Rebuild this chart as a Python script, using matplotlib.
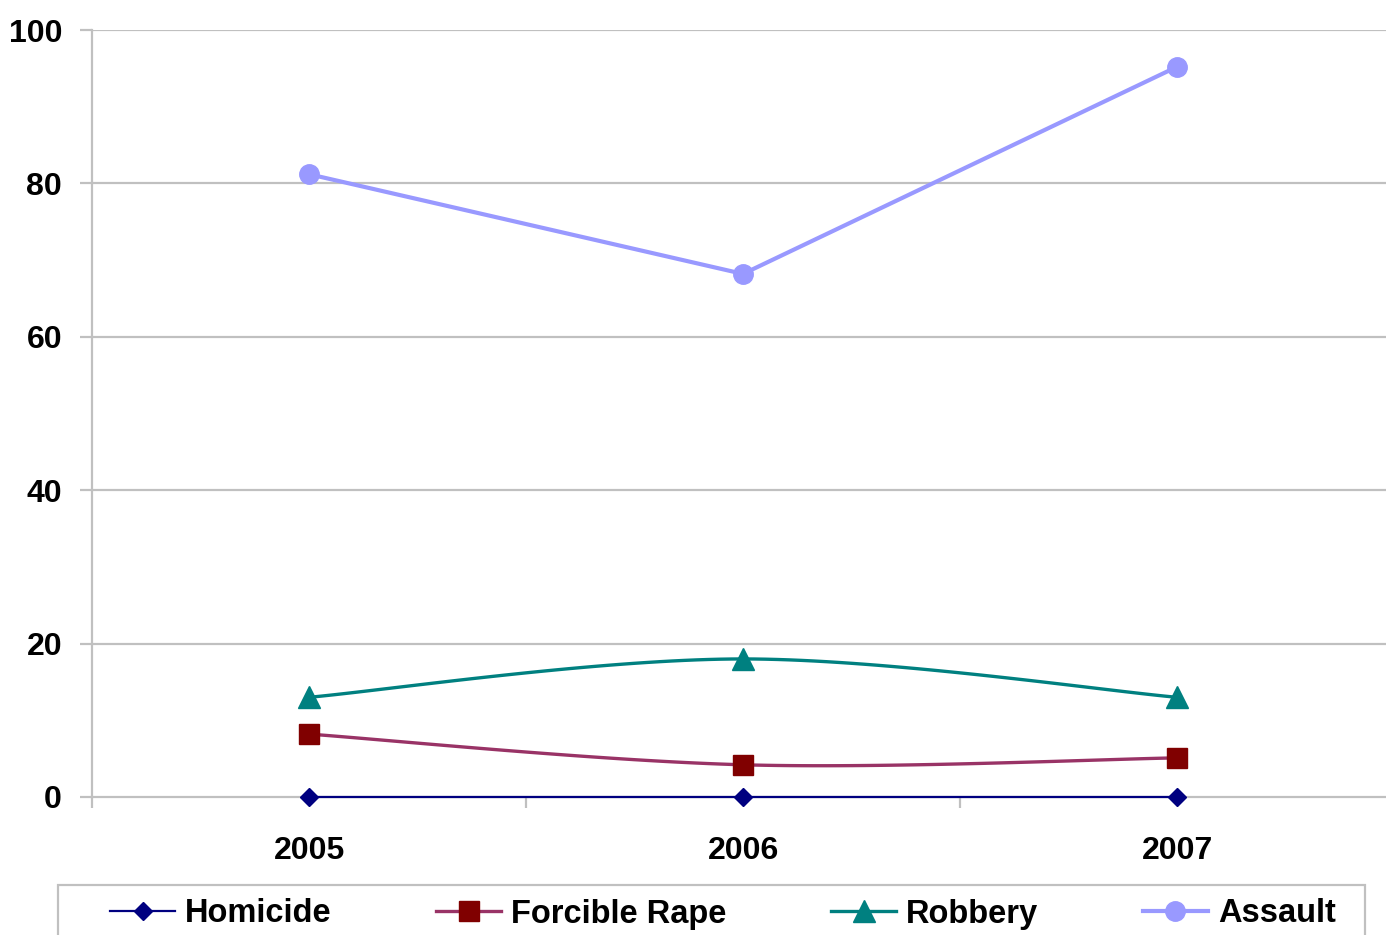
import numpy as np
import matplotlib
matplotlib.use("Agg")
import matplotlib.pyplot as plt
from matplotlib.ticker import FixedLocator
from matplotlib.patches import Rectangle

years = ["2005", "2006", "2007"]
homicide = [0.0, 0.0, 0.0]
forcible_rape = [8.2, 4.2, 5.1]
robbery = [13.0, 18.0, 13.0]
assault = [81.2, 68.2, 95.2]
yticks = [0, 20, 40, 60, 80, 100]

plt.rcParams['font.family'] = ['Liberation Sans', 'DejaVu Sans']


def excel_smooth(y, n=40):
    """Excel-style Bezier smoothing through the points (x = category index)."""
    pts = np.column_stack([np.arange(len(y), dtype=float), np.asarray(y, float)])
    ext = np.vstack([pts[0], pts, pts[-1]])
    out = []
    t = np.linspace(0, 1, n)[:, None]
    for i in range(len(pts) - 1):
        p0 = ext[i + 1]
        p3 = ext[i + 2]
        c1 = p0 + (ext[i + 2] - ext[i]) / 6.0
        c2 = p3 - (ext[i + 3] - ext[i + 1]) / 6.0
        seg = ((1 - t) ** 3) * p0 + 3 * ((1 - t) ** 2) * t * c1 + 3 * (1 - t) * t ** 2 * c2 + t ** 3 * p3
        out.append(seg if i == 0 else seg[1:])
    arr = np.vstack(out)
    return arr[:, 0], arr[:, 1]


W, H = 1386, 935
fig = plt.figure(figsize=(W / 100, H / 100), dpi=100)
ax = fig.add_axes([92 / W, 1 - 797 / H, 1302 / W, (797 - 30) / H])

x = np.arange(len(years))
grid_c = "#c0c0c0"

series = [
    ("Homicide", homicide, "#000080", "#000080", "D", 9, 1.6, True),
    ("Forcible Rape", forcible_rape, "#993366", "#800000", "s", 15, 2.4, True),
    ("Robbery", robbery, "#008080", "#008080", "^", 16, 2.4, True),
    ("Assault", assault, "#9999FF", "#9999FF", "o", 14, 3.0, False),
]

handles = []
for name, vals, lc, mc, mk, ms, lw, smooth in series:
    if smooth:
        sx, sy = excel_smooth(vals)
    else:
        sx, sy = x, np.asarray(vals)
    ax.plot(sx, sy, color=lc, lw=lw, zorder=3, clip_on=False)
    ax.plot(x, vals, linestyle="none", marker=mk, markersize=ms,
            markerfacecolor=mc, markeredgecolor=mc, zorder=4, clip_on=False)
    h, = ax.plot([], [], color=lc, lw=lw, marker=mk, markersize=ms,
                 markerfacecolor=mc, markeredgecolor=mc)
    handles.append((h, name))

ax.set_xlim(-0.5, 2.5)
ax.set_ylim(0, 100)
ax.set_yticks(yticks)
ax.set_xticks(x)
ax.set_xticklabels(years)
ax.xaxis.set_minor_locator(FixedLocator([-0.5, 0.5, 1.5, 2.5]))

for yv in yticks[1:]:
    ax.axhline(yv, color=grid_c, lw=1.6, zorder=1)

for s in ["top", "right"]:
    ax.spines[s].set_visible(False)
ax.spines["left"].set_color(grid_c)
ax.spines["left"].set_linewidth(1.6)
ax.spines["bottom"].set_color(grid_c)
ax.spines["bottom"].set_linewidth(1.6)

ax.tick_params(axis="y", length=8.6, width=1.6, color=grid_c, pad=13,
               labelsize=23)
ax.tick_params(axis="x", which="major", length=0, pad=28, labelsize=23)
ax.tick_params(axis="x", which="minor", length=8, width=1.6, color=grid_c)
for lab in ax.get_xticklabels() + ax.get_yticklabels():
    lab.set_fontweight("bold")

# legend frame
fig.patches.append(Rectangle((58 / W, 1 - 945 / H), (1365 - 58) / W, 60 / H,
                             transform=fig.transFigure, facecolor="white",
                             edgecolor=grid_c, lw=1.6, zorder=0))

leg = fig.legend([h for h, _ in handles], [n for _, n in handles],
                 loc="center left", bbox_to_anchor=(110 / W, 1 - 914 / H),
                 ncol=4, frameon=False,
                 prop={"weight": "bold", "size": 23.5},
                 handlelength=2.0, handletextpad=0.3, columnspacing=3.2,
                 borderpad=0, borderaxespad=0)

fig.savefig("out.png", dpi=100)
